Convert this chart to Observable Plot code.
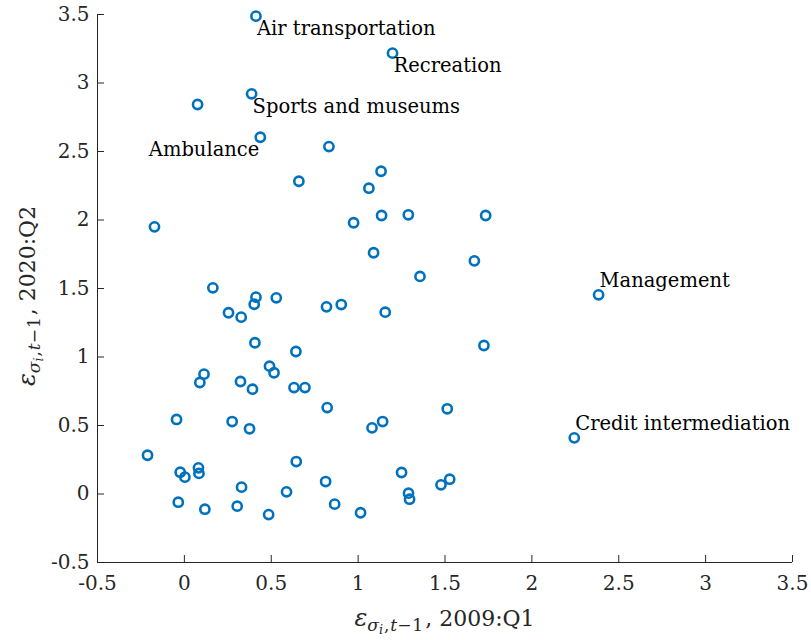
<!DOCTYPE html>
<html>
<head>
<meta charset="utf-8">
<script src="https://cdn.jsdelivr.net/npm/d3@7"></script>
<script src="https://cdn.jsdelivr.net/npm/@observablehq/plot@0.6"></script>
<style>
  html, body { margin: 0; padding: 0; background: #fff; }
  #chart svg { display: block; }
</style>
</head>
<body>
<div id="chart"></div>
<script>
// ---- Data ----
const industries = [
  "Air transportation", "Recreation", "Sports and museums", "", "Ambulance",
  "", "", "", "", "", "", "", "", "", "", "", "", "", "", "", "", "", "", "", "",
  "", "", "", "", "", "", "", "", "", "", "", "", "", "", "", "", "", "", "", "",
  "", "", "", "", "", "", "", "", "", "", "", "", "", "", "", "", "", "", "",
  "Management", "Credit intermediation"
];
const eps2009 = [
  0.412, 1.198, 0.387, 0.076, 0.437,
  0.832, 1.132, 0.659, 1.062, -0.172, 0.974, 1.135, 1.289, 1.734, 1.089, 1.669,
  1.356, 0.164, 0.412, 0.529, 0.402, 0.254, 0.327, 0.818, 0.903,
  1.156, 1.724, 0.406, 0.642, 0.490, 0.516, 0.113, 0.089, 0.323, 0.392, 0.631,
  0.694, 0.822, 1.513, -0.045, 0.275, 0.375, 1.080, 1.141, -0.212,
  0.644, -0.024, 0.003, 0.081, 0.084, 1.250, 0.329, 0.588, 0.813, 1.290, 1.296,
  1.477, 1.527, -0.035, 0.118, 0.304, 0.485, 0.865, 1.014,
  2.384, 2.244
];
const eps2020 = [
  3.488, 3.218, 2.921, 2.843, 2.604,
  2.536, 2.356, 2.283, 2.232, 1.950, 1.980, 2.033, 2.038, 2.033, 1.761, 1.702,
  1.588, 1.505, 1.437, 1.432, 1.385, 1.323, 1.291, 1.366, 1.383,
  1.327, 1.084, 1.104, 1.040, 0.933, 0.885, 0.875, 0.814, 0.821, 0.765, 0.777,
  0.777, 0.631, 0.622, 0.544, 0.529, 0.476, 0.483, 0.529, 0.283,
  0.237, 0.159, 0.123, 0.191, 0.150, 0.157, 0.050, 0.016, 0.091, 0.006, -0.038,
  0.067, 0.108, -0.060, -0.111, -0.089, -0.150, -0.074, -0.137,
  1.454, 0.410
];
const xTicks = [-0.5, 0, 0.5, 1, 1.5, 2, 2.5, 3, 3.5];
const xTickLabels = ["-0.5", "0", "0.5", "1", "1.5", "2", "2.5", "3", "3.5"];
const yTicks = [-0.5, 0, 0.5, 1, 1.5, 2, 2.5, 3, 3.5];
const yTickLabels = ["-0.5", "0", "0.5", "1", "1.5", "2", "2.5", "3", "3.5"];

// ---- Build table ----
const points = eps2009.map((x, i) => ({ x, y: eps2020[i], name: industries[i] }));
const labelBelowStart = ["Air transportation", "Recreation", "Sports and museums"];
const labelBelowEnd = ["Ambulance"];
const labelAboveStart = ["Management", "Credit intermediation"];
const pick = names => points.filter(d => names.includes(d.name));

// ---- Layout ----
const W = 811, H = 640;
const mL = 97, mR = 19, mT = 14, mB = 78;
const plotW = W - mL - mR, plotH = H - mT - mB;
const tickLen = 7;
const axisColor = "#262626";
const FONT = "'DejaVu Serif', serif";

const plot = Plot.plot({
  width: W, height: H,
  marginLeft: mL, marginRight: mR, marginTop: mT, marginBottom: mB,
  x: { domain: [xTicks[0], xTicks[xTicks.length - 1]] },
  y: { domain: [yTicks[0], yTicks[yTicks.length - 1]] },
  style: { fontFamily: FONT, background: "white", color: axisColor },
  marks: [
    // axis lines
    Plot.ruleX([xTicks[0]], { stroke: axisColor, strokeWidth: 1 }),
    Plot.ruleY([yTicks[0]], { stroke: axisColor, strokeWidth: 1 }),
    // inward ticks
    Plot.ruleX(xTicks, { x: d => d, insetTop: plotH - tickLen, stroke: axisColor, strokeWidth: 1 }),
    Plot.ruleY(yTicks, { y: d => d, insetRight: plotW - tickLen, stroke: axisColor, strokeWidth: 1 }),
    // tick labels
    Plot.axisX({ ticks: xTicks, tickSize: 0, tickPadding: 13, fontSize: 20, fill: axisColor,
      tickFormat: d => xTickLabels[xTicks.indexOf(d)], label: null }),
    Plot.axisY({ ticks: yTicks, tickSize: 0, tickPadding: 8, fontSize: 20, fill: axisColor,
      tickFormat: d => yTickLabels[yTicks.indexOf(d)], label: null }),
    // points
    Plot.dot(points, { x: "x", y: "y", r: 4.6, stroke: "#0072BD", strokeWidth: 2.6, fill: "none" }),
    // labels
    Plot.text(pick(labelBelowStart), { x: "x", y: "y", text: "name", textAnchor: "start",
      lineAnchor: "bottom", dx: 1, dy: 19, fontSize: 19.5, fill: "black" }),
    Plot.text(pick(labelBelowEnd), { x: "x", y: "y", text: "name", textAnchor: "end",
      lineAnchor: "bottom", dx: -1, dy: 19, fontSize: 19.5, fill: "black" }),
    Plot.text(pick(labelAboveStart), { x: "x", y: "y", text: "name", textAnchor: "start",
      lineAnchor: "bottom", dx: 1, dy: -7.5, fontSize: 19.5, fill: "black" })
  ]
});

// ---- Axis titles with math subscripts ----
const svg = d3.select(plot);
const xr = plot.scale("x").range, yr = plot.scale("y").range;
function mathLabel(sel, tail) {
  sel.attr("font-family", FONT).attr("font-size", 22).attr("fill", axisColor).attr("text-anchor", "middle");
  sel.append("tspan").attr("font-style", "italic").attr("font-size", 24).text("ε");
  sel.append("tspan").attr("font-size", 17).attr("dy", 5).attr("font-style", "italic").text("σ");
  sel.append("tspan").attr("font-size", 12.5).attr("dy", 3).attr("font-style", "italic").text("i");
  sel.append("tspan").attr("font-size", 17).attr("dy", -3).attr("dx", 1).text(",");
  sel.append("tspan").attr("font-size", 17).attr("dx", 1).attr("font-style", "italic").text("t");
  sel.append("tspan").attr("font-size", 17).attr("letter-spacing", 1).text("−1");
  sel.append("tspan").attr("dy", -5).attr("dx", 1).text(", 2009:Q1".replace("2009:Q1", tail));
}
mathLabel(svg.append("text")
  .attr("x", (xr[0] + xr[1]) / 2)
  .attr("y", yr[0] + 64), "2009:Q1");
mathLabel(svg.append("text")
  .attr("transform", `translate(${xr[0] - 62},${(yr[0] + yr[1]) / 2 + 8}) rotate(-90)`), "2020:Q2");

document.getElementById("chart").appendChild(plot);
</script>
</body>
</html>
